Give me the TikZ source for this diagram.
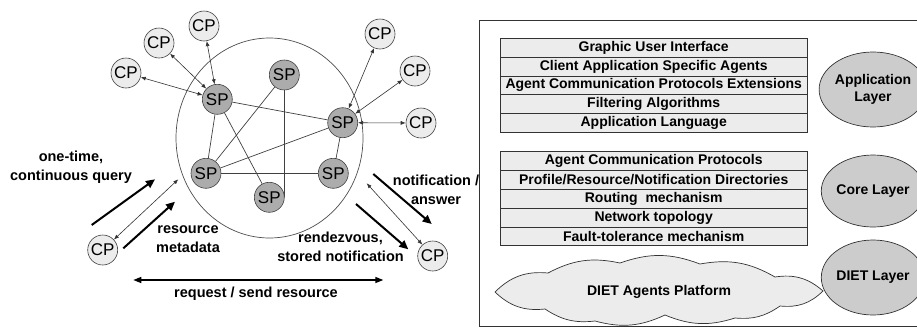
\documentclass[tikz,border=0pt]{standalone}
\usepackage{fontspec}
\setmainfont{Liberation Sans}
\usetikzlibrary{arrows.meta,shapes.geometric,backgrounds}
\begin{document}
\begin{tikzpicture}[x=1pt,y=-1pt,
  peer/.style={circle,draw=black!75,line width=0.6pt,minimum size=30pt,inner sep=0pt,font=\fontsize{17}{17}\selectfont},
  cpnode/.style={peer,fill=gray!15},
  spnode/.style={peer,fill=gray!65},
  link/.style={draw=black!75,line width=0.7pt},
  cparrow/.style={draw=black!80,line width=0.6pt,{Latex[length=5pt,width=4pt]}-{Latex[length=5pt,width=4pt]}},
  bigarrow/.style={draw=black,line width=2pt,-{Triangle[length=9pt,width=8pt]}},
  lbl/.style={align=center,font=\fontsize{14.5}{19.5}\selectfont\bfseries},
  rowbox/.style={draw=black!80,line width=0.8pt,fill=gray!15,minimum width=307.3pt,minimum height=18.8pt,inner sep=0pt,font=\fontsize{14}{14}\selectfont\bfseries},
  layer/.style={ellipse,draw=black!80,line width=0.7pt,fill=gray!40,minimum width=90pt,minimum height=75pt,inner sep=0pt,align=center,font=\fontsize{14}{17}\selectfont\bfseries}
]
\useasboundingbox (0,0) rectangle (917,327);

% ---------- left: overlay network ----------
\draw[black!70,line width=0.7pt] (269.5,138) ellipse [x radius=93.5, y radius=100];

\node[spnode] (SP1) at (217.3,99.3) {SP};
\node[spnode] (SP2) at (284.3,75) {SP};
\node[spnode] (SP3) at (342.7,122.7) {SP};
\node[spnode] (SP4) at (206,173.3) {SP};
\node[spnode] (SP5) at (269.3,197.3) {SP};
\node[spnode] (SP6) at (333.3,173.3) {SP};

\node[cpnode] (CPa) at (204,26) {CP};
\node[cpnode] (CPb) at (159,43) {CP};
\node[cpnode] (CPc) at (126,73) {CP};
\node[cpnode] (CPd) at (380,34) {CP};
\node[cpnode] (CPe) at (415,71) {CP};
\node[cpnode] (CPf) at (421,123) {CP};
\node[cpnode] (CPg) at (102.7,250) {CP};
\node[cpnode] (CPh) at (432.7,256) {CP};

\begin{scope}[on background layer]
\draw[link] (SP1) -- (SP3);
\draw[link] (SP1) -- (SP4);
\draw[link] (SP1) -- (SP5);
\draw[link] (SP2) -- (SP4);
\draw[link] (SP2.south) -- (SP2.south |- SP5.east);
\draw[link] (SP4) -- (SP3);
\draw[link] (SP4) -- (SP6);
\draw[link] (SP3) -- (SP6);
\end{scope}

\draw[cparrow] (CPa) -- (SP1);
\draw[cparrow] (CPb) -- (SP1);
\draw[cparrow] (CPc) -- (SP1);
\draw[cparrow] (CPd) -- (SP3);
\draw[cparrow] (CPe) -- (SP3);
\draw[cparrow] (CPf) -- (SP3);

% free arrow ends
\coordinate (q1) at (91.7,225);
\coordinate (q2) at (155,179.3);
\coordinate (m1) at (123.3,248.3);
\coordinate (m2) at (175,201.7);
\coordinate (t2) at (178.3,179.3);
\coordinate (n1) at (373.3,174);
\coordinate (n2) at (431.7,224);
\coordinate (u1) at (366.7,183.3);
\coordinate (r1) at (356,204);
\coordinate (r2) at (408.3,249.3);
\coordinate (b1) at (133.3,280);
\coordinate (b2) at (383.3,280);

\draw[bigarrow] (q1) -- (q2);
\draw[bigarrow] (m1) -- (m2);
\draw[cparrow] (CPg) -- (t2);
\draw[bigarrow] (n1) -- (n2);
\draw[cparrow] (u1) -- (CPh);
\draw[bigarrow] (r1) -- (r2);
\draw[draw=black,line width=1.5pt,{Triangle[length=8pt,width=6pt]}-{Triangle[length=8pt,width=6pt]}] (b1) -- (b2);

\node[lbl] (lq) at (71,167) {one-time,\\continuous query};
\node[lbl] (lm) at (188,239.3) {resource\\metadata};
\node[lbl] (lr) at (340.5,246.7) {rendezvous,\\stored notification};
\node[lbl] (ln) at (436,190) {notification /\\answer};
\node[lbl] (lb) at (256,294) {request / send resource};

% ---------- right: layered architecture ----------
\draw[black!80,line width=0.8pt] (930,20.7) -- (479.5,20.7) -- (479.5,326.3) -- (930,326.3);

\node[rowbox] (a1) at (653.7,47.7) {Graphic User Interface};
\node[rowbox] (a2) at (653.7,66.5) {Client Application Specific Agents};
\node[rowbox] (a3) at (653.7,85.3) {Agent Communication Protocols Extensions};
\node[rowbox] (a4) at (653.7,104.1) {Filtering Algorithms};
\node[rowbox] (a5) at (653.7,122.9) {Application Language};

\node[rowbox] (c1) at (653.7,161.1) {Agent Communication Protocols};
\node[rowbox] (c2) at (653.7,179.9) {Profile/Resource/Notification Directories};
\node[rowbox] (c3) at (653.7,198.7) {Routing\ \ mechanism};
\node[rowbox] (c4) at (653.7,217.5) {Network topology};
\node[rowbox] (c5) at (653.7,236.3) {Fault-tolerance mechanism};

\draw[draw=black!80,line width=0.7pt,fill=gray!15]
  (495,292) to[bend left=25] (548,273) to[bend left=20] (620,263)
  to[bend left=20] (700,264) to[bend left=20] (775,277) to[bend left=25] (823,291)
  to[bend left=25] (780,306) to[bend left=20] (735,318) to[bend left=20] (665,315)
  to[bend left=20] (595,321) to[bend left=20] (545,309) to[bend left=25] cycle;
\node[font=\fontsize{14}{14}\selectfont\bfseries] (diet) at (659,291.5) {DIET Agents Platform};

\node[layer] (L1) at (873,89.5) {Application\\Layer};
\node[layer,minimum height=72pt] (L2) at (873,191) {Core Layer};
\node[layer] (L3) at (873,277.5) {DIET Layer};
\end{tikzpicture}
\end{document}
